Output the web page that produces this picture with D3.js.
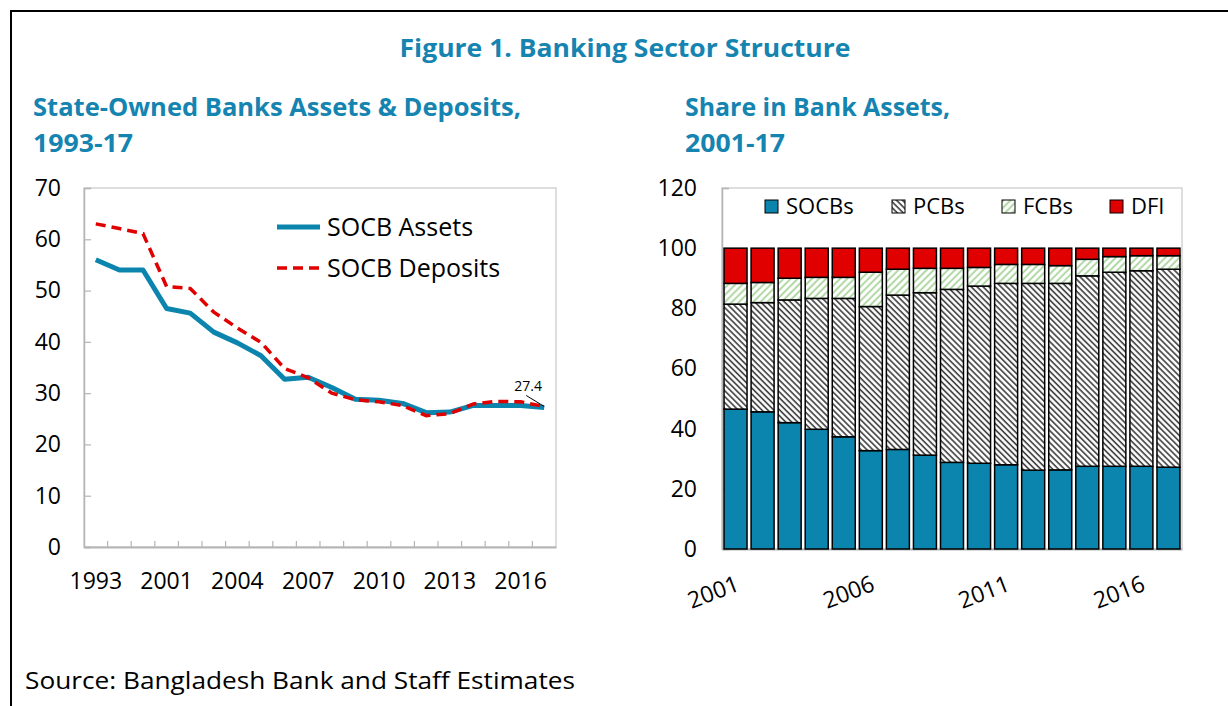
<!DOCTYPE html>
<html>
<head>
<meta charset="utf-8">
<script src="https://cdnjs.cloudflare.com/ajax/libs/d3/7.8.5/d3.min.js"></script>
<style>
  html, body { margin: 0; padding: 0; background: #fff; }
  svg { display: block; font-family: "Open Sans", "Noto Sans", sans-serif; }
</style>
</head>
<body>
<svg id="chart" width="1228" height="706"></svg>
<script>
// ---------- Data ----------
const lineCategories = ["1993","1997","2000","2001","2002","2003","2004","2005","2006","2007","2008","2009","2010","2011","2012","2013","2014","2015","2016","2017"];
const socbAssets   = [56.0,54.0,54.0,46.5,45.6,41.9,39.8,37.3,32.7,33.1,31.1,28.8,28.6,28.0,26.2,26.3,27.6,27.6,27.6,27.2];
const socbDeposits = [63.0,62.1,61.1,50.8,50.4,45.8,42.7,39.9,34.8,33.0,30.0,28.7,28.3,27.6,25.6,26.0,27.9,28.4,28.3,27.4];
const lineTicks = [0,10,20,30,40,50,60,70];

const barYears = ["2001","2002","2003","2004","2005","2006","2007","2008","2009","2010","2011","2012","2013","2014","2015","2016","2017"];
const socbShare = [46.5,45.6,42.0,39.8,37.3,32.7,33.1,31.2,28.8,28.5,28.0,26.2,26.3,27.5,27.5,27.5,27.2];
const pcbShare  = [34.9,36.3,40.8,43.5,46.0,47.9,51.3,54.0,57.5,58.9,60.3,62.1,62.0,63.3,64.5,65.0,65.8];
const fcbShare  = [6.9,6.7,7.2,7.0,7.0,11.4,8.6,8.1,7.0,6.2,6.3,6.3,5.9,5.5,5.2,5.0,4.5];
const dfiShare  = [11.7,11.4,10.0,9.7,9.7,8.0,7.0,6.7,6.7,6.4,5.4,5.4,5.8,3.7,2.8,2.5,2.5];
const barSeries = ["SOCBs","PCBs","FCBs","DFI"];
const barTicks = [0,20,40,60,80,100,120];
const barLabelYears = ["2001","2006","2011","2016"];

// ---------- Styles ----------
const TEAL = "#0b85ad";
const RED = "#e00000";
const TITLE = "#1584b0";
const AXIS = "#b5b5b5";
const TICK_FS = 23;

const svg = d3.select("#chart");

// pattern defs
const defs = svg.append("defs");
const pcbPat = defs.append("pattern").attr("id","pcb").attr("patternUnits","userSpaceOnUse")
  .attr("width",4.2).attr("height",4.2).attr("patternTransform","rotate(-45)");
pcbPat.append("rect").attr("width",4.2).attr("height",4.2).attr("fill","#fff");
pcbPat.append("line").attr("x1",1).attr("x2",1).attr("y1",0).attr("y2",4.2).attr("stroke","#3a3a3a").attr("stroke-width",1.6);
const fcbPat = defs.append("pattern").attr("id","fcb").attr("patternUnits","userSpaceOnUse")
  .attr("width",5).attr("height",5).attr("patternTransform","rotate(45)");
fcbPat.append("rect").attr("width",5).attr("height",5).attr("fill","#fff");
fcbPat.append("line").attr("x1",1.2).attr("x2",1.2).attr("y1",0).attr("y2",5).attr("stroke","#a8d49a").attr("stroke-width",1.8);

const fills = {SOCBs: TEAL, PCBs: "url(#pcb)", FCBs: "url(#fcb)", DFI: RED};

// outer frame
svg.append("path").attr("d","M11,706 L11,11 L1228,11").attr("fill","none").attr("stroke","#000").attr("stroke-width",2);

// titles
svg.append("text").attr("x",625).attr("y",57).attr("text-anchor","middle")
  .attr("font-size",25).attr("font-weight",700).attr("fill",TITLE)
  .attr("textLength",451).attr("lengthAdjust","spacingAndGlyphs")
  .text("Figure 1. Banking Sector Structure");
svg.append("text").attr("x",33).attr("y",116).attr("font-size",25).attr("font-weight",700).attr("fill",TITLE)
  .attr("textLength",488).attr("lengthAdjust","spacingAndGlyphs").text("State-Owned  Banks Assets & Deposits,");
svg.append("text").attr("x",33).attr("y",152).attr("font-size",25).attr("font-weight",700).attr("fill",TITLE)
  .attr("textLength",100).attr("lengthAdjust","spacingAndGlyphs").text("1993-17");
svg.append("text").attr("x",685).attr("y",116).attr("font-size",25).attr("font-weight",700).attr("fill",TITLE)
  .attr("textLength",265).attr("lengthAdjust","spacingAndGlyphs").text("Share in Bank Assets,");
svg.append("text").attr("x",685).attr("y",152).attr("font-size",25).attr("font-weight",700).attr("fill",TITLE)
  .attr("textLength",100).attr("lengthAdjust","spacingAndGlyphs").text("2001-17");
svg.append("text").attr("x",25).attr("y",689).attr("font-size",24).attr("fill","#000")
  .attr("textLength",550).attr("lengthAdjust","spacingAndGlyphs").text("Source: Bangladesh Bank and Staff Estimates");

// ---------- Left line chart ----------
const L = {x0:84, x1:556, y0:188, y1:547};
const xL = d3.scaleBand().domain(lineCategories).range([L.x0, L.x1]).padding(0);
const yL = d3.scaleLinear().domain([0,70]).range([L.y1, L.y0]);

const gL = svg.append("g");
gL.append("rect").attr("x",L.x0).attr("y",L.y0).attr("width",L.x1-L.x0).attr("height",L.y1-L.y0)
  .attr("fill","none").attr("stroke","#c8c8c8").attr("stroke-width",1.2);

// y axis
const yAxL = gL.append("g").attr("transform",`translate(${L.x0},0)`)
  .call(d3.axisLeft(yL).tickValues(lineTicks).tickSize(-7).tickPadding(23));
yAxL.select(".domain").attr("stroke",AXIS).attr("stroke-width",1.5);
yAxL.selectAll(".tick line").attr("stroke",AXIS).attr("stroke-width",1.2);
yAxL.selectAll(".tick text").attr("font-size",TICK_FS).attr("fill","#000").attr("font-family","Open Sans");

// x axis
const xAxL = gL.append("g").attr("transform",`translate(0,${L.y1})`)
  .call(d3.axisBottom(xL).tickSize(0).tickPadding(26)
    .tickFormat((d,i) => i % 3 === 0 ? d : ""));
xAxL.select(".domain").attr("stroke",AXIS).attr("stroke-width",2.2);
xAxL.selectAll(".tick text").attr("font-size",TICK_FS).attr("fill","#000").attr("font-family","Open Sans");
// category boundary ticks (inside)
gL.append("g").selectAll("line").data(lineCategories.slice(1)).join("line")
  .attr("x1",d=>xL(d)).attr("x2",d=>xL(d)).attr("y1",L.y1).attr("y2",L.y1-6)
  .attr("stroke",AXIS).attr("stroke-width",1.2);

const lineGen = d3.line().x((d,i)=>xL(lineCategories[i])+xL.bandwidth()/2).y(d=>yL(d));
gL.append("path").datum(socbAssets).attr("d",lineGen).attr("fill","none")
  .attr("stroke",TEAL).attr("stroke-width",5).attr("stroke-linejoin","round");
gL.append("path").datum(socbDeposits).attr("d",lineGen).attr("fill","none")
  .attr("stroke",RED).attr("stroke-width",3.5).attr("stroke-dasharray","10,6");

// end label
const lastCat = lineCategories[lineCategories.length-1];
const lx = xL(lastCat)+xL.bandwidth()/2, ly = yL(socbDeposits[socbDeposits.length-1]);
gL.append("line").attr("x1",lx-18).attr("y1",ly-11).attr("x2",lx).attr("y2",ly).attr("stroke","#000").attr("stroke-width",1);
gL.append("text").attr("x",lx-16).attr("y",ly-15).attr("text-anchor","middle").attr("font-size",14)
  .attr("fill","#000").text(d3.format(".1f")(socbDeposits[socbDeposits.length-1]));

// legend
const legL = gL.append("g");
legL.append("line").attr("x1",277).attr("x2",320).attr("y1",227).attr("y2",227).attr("stroke",TEAL).attr("stroke-width",5);
legL.append("text").attr("x",327).attr("y",236).attr("font-size",25).attr("fill","#000").text("SOCB Assets");
legL.append("line").attr("x1",277).attr("x2",320).attr("y1",268).attr("y2",268).attr("stroke",RED).attr("stroke-width",3.5).attr("stroke-dasharray","10,6");
legL.append("text").attr("x",327).attr("y",277).attr("font-size",25).attr("fill","#000").text("SOCB Deposits");

// ---------- Right bar chart ----------
const R = {x0:722, x1:1182, y0:188, y1:549};
const xR = d3.scaleBand().domain(barYears).range([R.x0, R.x1]).paddingInner(0.15).paddingOuter(0.075);
const yR = d3.scaleLinear().domain([0,120]).range([R.y1, R.y0]);

const gR = svg.append("g");
gR.append("rect").attr("x",R.x0).attr("y",R.y0).attr("width",R.x1-R.x0).attr("height",R.y1-R.y0)
  .attr("fill","none").attr("stroke","#c8c8c8").attr("stroke-width",1.2);

const yAxR = gR.append("g").attr("transform",`translate(${R.x0},0)`)
  .call(d3.axisLeft(yR).tickValues(barTicks).tickSize(-7).tickPadding(25));
yAxR.select(".domain").attr("stroke",AXIS).attr("stroke-width",1.5);
yAxR.selectAll(".tick line").attr("stroke",AXIS).attr("stroke-width",1.2);
yAxR.selectAll(".tick text").attr("font-size",TICK_FS).attr("fill","#000").attr("font-family","Open Sans");

const xAxR = gR.append("g").attr("transform",`translate(0,${R.y1})`)
  .call(d3.axisBottom(xR).tickSize(0).tickFormat(""));
xAxR.select(".domain").attr("stroke",AXIS).attr("stroke-width",2.2);

const table = barYears.map((y,i)=>({year:y, SOCBs:socbShare[i], PCBs:pcbShare[i], FCBs:fcbShare[i], DFI:dfiShare[i]}));
const stacked = d3.stack().keys(barSeries)(table);
gR.append("g").selectAll("g").data(stacked).join("g")
  .attr("fill", d=>fills[d.key])
  .selectAll("rect").data(d=>d).join("rect")
  .attr("x", d=>xR(d.data.year)).attr("width", xR.bandwidth())
  .attr("y", d=>yR(d[1])).attr("height", d=>yR(d[0])-yR(d[1]))
  .attr("stroke","#000").attr("stroke-width",1.5);

// rotated x labels
gR.append("g").selectAll("text").data(barLabelYears).join("text")
  .attr("transform", d=>`translate(${xR(d)+xR.bandwidth()/2-1},${R.y1+25}) rotate(-21)`)
  .attr("text-anchor","end").attr("dy","0.75em").attr("font-size",TICK_FS).attr("fill","#000").text(d=>d);

// legend
const legR = gR.append("g");
const legX = [765, 892, 1002, 1110];
barSeries.forEach((k,i)=>{
  legR.append("rect").attr("x",legX[i]).attr("y",200).attr("width",13).attr("height",13)
    .attr("fill",fills[k]).attr("stroke","#000").attr("stroke-width",1);
  legR.append("text").attr("x",legX[i]+21).attr("y",214).attr("font-size",22).attr("fill","#000").text(k);
});
</script>
</body>
</html>
